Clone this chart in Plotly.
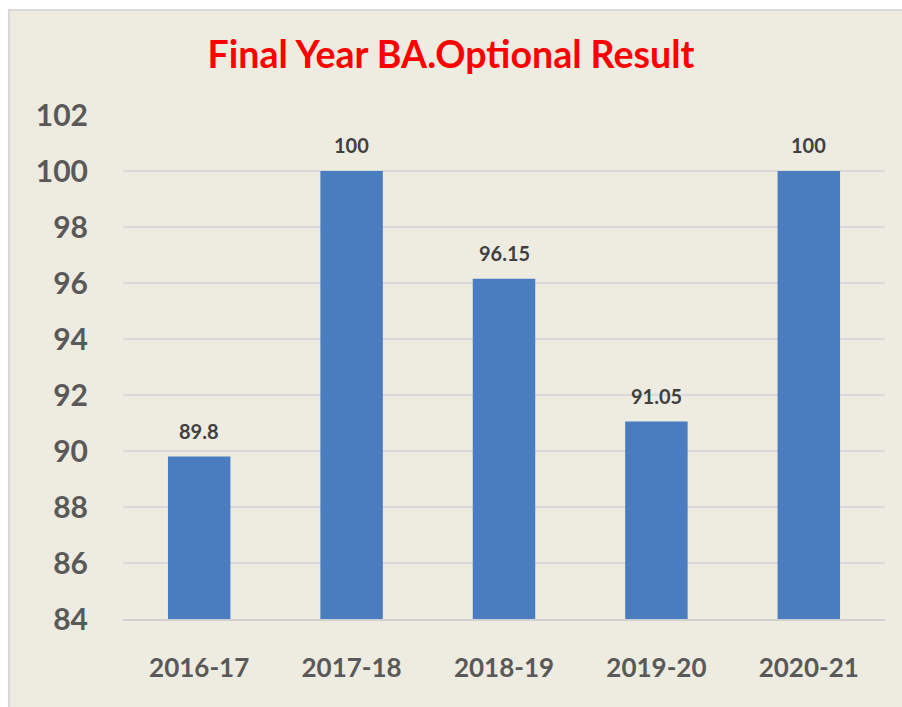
import plotly.graph_objects as go

categories = ["2016-17", "2017-18", "2018-19", "2019-20", "2020-21"]
values = [89.8, 100, 96.15, 91.05, 100]
labels = ["89.8", "100", "96.15", "91.05", "100"]
y_ticks = [84, 86, 88, 90, 92, 94, 96, 98, 100, 102]

W, H = 902, 707
L, R, T, B = 123, 17, 115, 88
pw, ph = W - L - R, H - T - B

fig = go.Figure()
fig.add_trace(go.Bar(
    x=categories, y=values,
    marker=dict(color="#4a7dbf", line=dict(width=0)),
))
for c, v, t in zip(categories, values, labels):
    fig.add_annotation(x=c, y=v, text="<b>" + t + "</b>", showarrow=False,
                       yanchor="bottom", yshift=12,
                       font=dict(family="Lato", size=20, color="#404040"))

fig.update_layout(
    width=W, height=H,
    margin=dict(l=L, r=R, t=T, b=B, pad=0),
    paper_bgcolor="white",
    plot_bgcolor="rgba(0,0,0,0)",
    bargap=0.59,
    showlegend=False,
    title=dict(text="<b>Final Year BA.Optional Result</b>", x=0.5, xanchor="center",
               y=1 - 55 / H, yanchor="middle",
               font=dict(family="Lato", size=37.5, color="#ff0000")),
    font=dict(family="Lato"),
)
fig.update_yaxes(
    range=[84, 102], tickvals=y_ticks, showgrid=True, gridcolor="#d9d9d9", gridwidth=1.5,
    zeroline=False, showline=False, ticks="", ticklabelstandoff=34,
    tickfont=dict(family="Lato", size=30, color="#595959", weight="bold"),
)
fig.update_xaxes(
    showline=True, linecolor="#d0d0d0", linewidth=2, ticks="", ticklabelstandoff=25,
    tickfont=dict(family="Lato", size=26, color="#595959", weight="bold"),
)
# beige chart area with a light frame (left/top visible, right/bottom run off the page)
fig.add_shape(type="rect", xref="paper", yref="paper", layer="below",
              x0=(9 - L) / pw, x1=1.5, y0=-0.5, y1=(H - B - 10) / ph,
              fillcolor="#eeebe0", line=dict(color="#d9d9d9", width=2))

fig.write_html(
    "out.html",
    config={"displayModeBar": False},
    post_script="document.body.style.margin='0';document.body.style.overflow='hidden';",
)
